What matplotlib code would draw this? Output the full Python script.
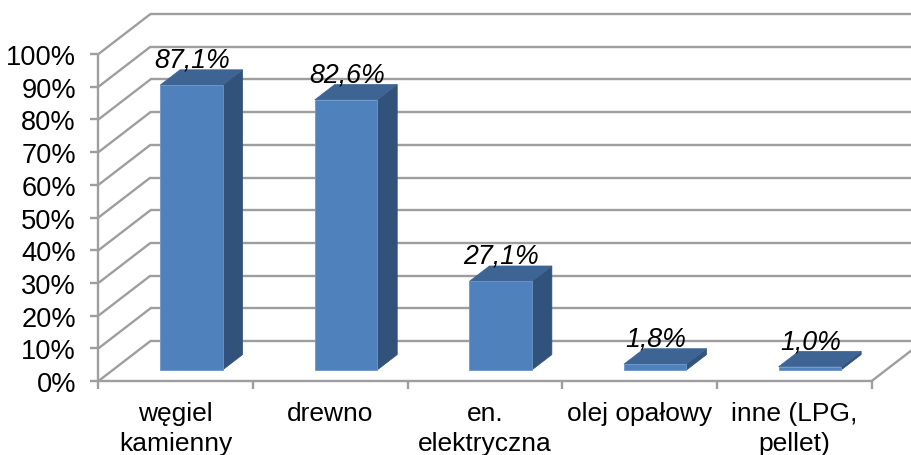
import matplotlib
matplotlib.use('Agg')

import matplotlib.pyplot as plt

categories = ['węgiel\nkamienny', 'drewno', 'en.\nelektryczna', 'olej opałowy', 'inne (LPG,\npellet)']
values = [87.1, 82.6, 27.1, 1.8, 1.0]
value_labels = ['87,1%', '82,6%', '27,1%', '1,8%', '1,0%']
ticks = [0, 10, 20, 30, 40, 50, 60, 70, 80, 90, 100]

plt.rcParams['font.family'] = ['Liberation Sans', 'DejaVu Sans']

GRID = '#9E9E9E'
FRONT = '#4F81BD'
SIDE = '#31527B'
TOP = '#3E6494'
EDGE = '#6D97CB'

# pixel scale of the picture: one category / one percent
px_cat = 154.64
px_pct = 3.27

fig = plt.figure(figsize=(9.12, 4.55), dpi=100)
ax = fig.add_axes([0, 0, 1, 1])
ax.set_xlim(-98.5 / px_cat, (912 - 98.5) / px_cat)
ax.set_ylim(-74 / px_pct, 381 / px_pct)
ax.axis('off')

# fake 3d: depth 1 is the back wall
depth_x = 52 / px_cat
depth_y = 40 / px_pct


def proj(c, v, d=0.0):
    return c + d * depth_x, v + d * depth_y


def line(p, q, color=GRID, lw=1.7, z=1):
    ax.plot([p[0], q[0]], [p[1], q[1]], color=color, lw=lw, zorder=z,
            solid_capstyle='butt')


n = len(categories)

# walls
for t in ticks:
    line(proj(0, t), proj(0, t, 1))
    line(proj(0, t, 1), proj(n + 1, t, 1))
    line(proj(0, t), (proj(0, t)[0] - 8 / px_cat, t))
line(proj(0, 0), proj(0, 100))
line(proj(0, 0), proj(n, 0))
line(proj(n, 0), proj(n, 0, 1))

for i in range(n + 1):
    line((i, 0), (i, -8 / px_pct))

# bars
bar_w = 62.5 / px_cat
d0 = 0.275
d1 = 0.66
shift = 1.2 / px_cat
for i, v in enumerate(values):
    left = i + 0.5 - bar_w / 2 + shift
    right = left + bar_w
    front = [proj(left, 0, d0), proj(right, 0, d0), proj(right, v, d0), proj(left, v, d0)]
    side = [proj(right, 0, d0), proj(right, 0, d1), proj(right, v, d1), proj(right, v, d0)]
    top = [proj(left, v, d0), proj(right, v, d0), proj(right, v, d1), proj(left, v, d1)]
    ax.add_patch(plt.Polygon(side, fc=SIDE, ec=SIDE, lw=0.5, zorder=3))
    ax.add_patch(plt.Polygon(top, fc=TOP, ec=TOP, lw=0.5, zorder=3))
    ax.add_patch(plt.Polygon(front, fc=FRONT, ec=EDGE, lw=0.6, zorder=4))
    x = proj(i + 0.5, v, d0)[0] + 2 / px_cat
    y = proj(i + 0.5, v, d1)[1] + 2 / px_pct
    ax.text(x, y, value_labels[i], fontsize=19.3, style='italic', ha='center',
            va='baseline', color='black', zorder=5)

# tick labels
for t in ticks:
    ax.text(-22.5 / px_cat, t - 1 / px_pct, '%d%%' % t, fontsize=19.6, ha='right',
            va='center_baseline', color='black')

for i, c in enumerate(categories):
    ax.text(i + 0.5, -39.7 / px_pct, c.split('\n')[0], fontsize=19, ha='center',
            va='baseline', color='black')
    if '\n' in c:
        ax.text(i + 0.5, -70 / px_pct, c.split('\n')[1], fontsize=19, ha='center',
                va='baseline', color='black')

fig.savefig('out.png', dpi=100)
